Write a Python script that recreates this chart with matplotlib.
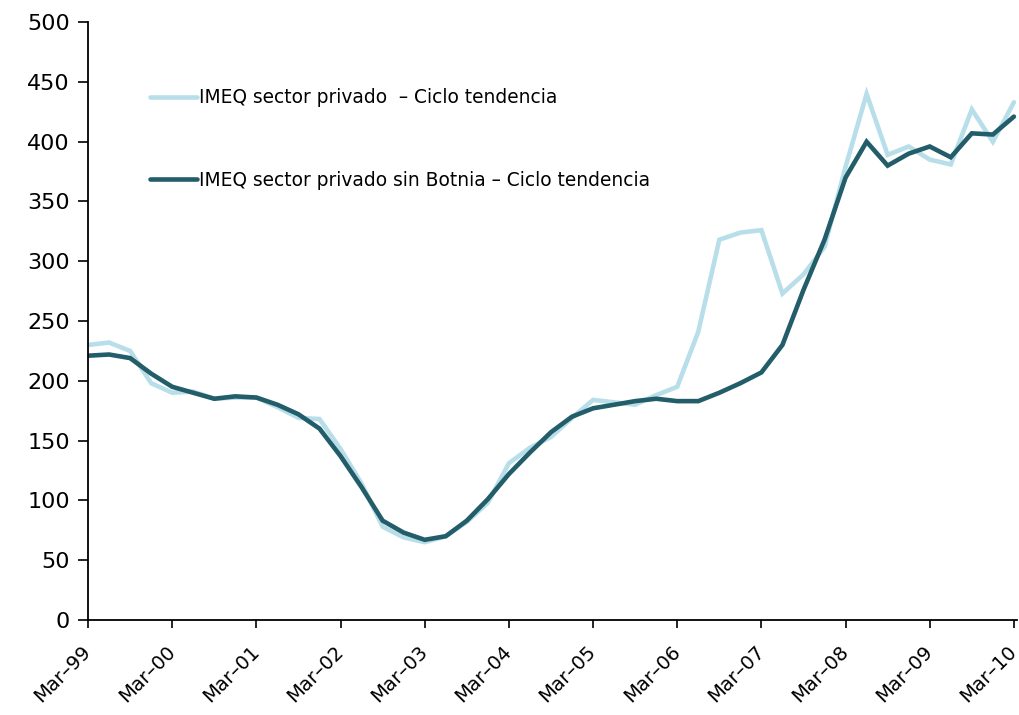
import matplotlib
matplotlib.use("Agg")
import matplotlib.pyplot as plt
import numpy as np

# ── Data (quarterly, Mar-99 .. Mar-10) ────────────────────────────────────────
YEARS = ["99", "00", "01", "02", "03", "04", "05", "06", "07", "08", "09", "10"]
TICK_LABELS = ["Mar\u2013" + y for y in YEARS]

IMEQ_PRIVADO = [
    230, 232, 225, 198, 190, 191, 185, 186, 186, 178, 169, 168,
    143, 114, 78, 69, 65, 70, 82, 98, 131, 144, 153, 169,
    184, 182, 180, 188, 195, 241, 318, 324, 326, 273, 289, 312,
    379, 440, 389, 396, 385, 381, 427, 400, 433,
]
IMEQ_SIN_BOTNIA = [
    221, 222, 219, 206, 195, 190, 185, 187, 186, 180, 172, 160,
    137, 111, 83, 73, 67, 70, 83, 101, 122, 140, 157, 170,
    177, 180, 183, 185, 183, 183, 190, 198, 207, 230, 276, 318,
    370, 400, 380, 390, 396, 387, 407, 406, 421,
]

LABEL_A = "IMEQ sector privado  \u2013 Ciclo tendencia"
LABEL_B = "IMEQ sector privado sin Botnia \u2013 Ciclo tendencia"

LIGHT = "#B8DFE9"
DARK = "#235D6A"

plt.rcParams["font.family"] = ["DejaVu Sans"]

fig = plt.figure(figsize=(10.19, 7.15), dpi=100)
ax = fig.add_axes([0.0864, 0.133, 0.9117, 0.836])

x = np.arange(len(IMEQ_PRIVADO))
ax.plot(x, IMEQ_PRIVADO, color=LIGHT, lw=3.3, label=LABEL_A,
        solid_capstyle="round", solid_joinstyle="miter")
ax.plot(x, IMEQ_SIN_BOTNIA, color=DARK, lw=3.3, label=LABEL_B,
        solid_capstyle="round", solid_joinstyle="miter")

ax.set_xlim(0, 44.15)
ax.set_ylim(0, 500)
ax.set_yticks(range(0, 501, 50))
ax.tick_params(axis="y", labelsize=16, length=7, width=1.2, direction="out", pad=6)
ax.set_xticks(np.arange(0, len(IMEQ_PRIVADO), 4))
ax.set_xticklabels(TICK_LABELS, rotation=45, ha="right", va="center",
                   rotation_mode="anchor", fontsize=14)
ax.tick_params(axis="x", length=6, width=1.2, direction="out", pad=15)

for side in ("top", "right"):
    ax.spines[side].set_visible(False)
for side in ("left", "bottom"):
    ax.spines[side].set_linewidth(1.3)

leg = ax.legend(loc="upper left", bbox_to_anchor=(0.140, 0.887),
                bbox_transform=fig.transFigure, frameon=False,
                fontsize=13.4, handlelength=2.5, handletextpad=0.15,
                labelspacing=3.42, borderaxespad=0)

fig.savefig("out.png", dpi=100, facecolor="white")
